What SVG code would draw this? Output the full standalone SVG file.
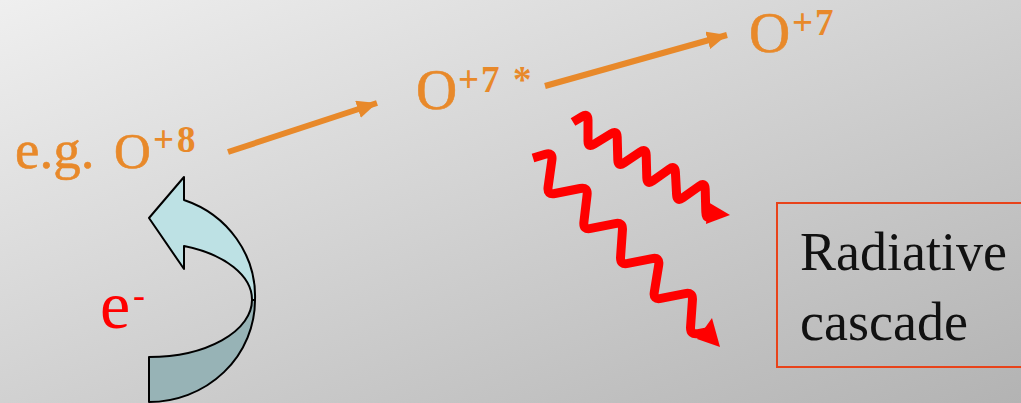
<svg xmlns="http://www.w3.org/2000/svg" width="1021" height="403" viewBox="0 0 1021 403">
<style>
.ion{font-family:"Liberation Serif","DejaVu Serif",serif;fill:#e8892a;stroke:#e8892a;stroke-width:0.6}
.sup{font-size:37px;font-weight:bold;stroke-width:0}
.conn{stroke:#e8892a;stroke-width:6;fill:none}
.wave{stroke:#ff0000;stroke-width:9;fill:none;stroke-linejoin:round;stroke-linecap:butt}
.head{fill:#ff0000}
.lbl{font-family:"Liberation Serif","DejaVu Serif",serif;font-size:54px;fill:#111}
.rib{stroke:#000;stroke-width:2;stroke-linejoin:round}
</style>
<defs>
<linearGradient id="bg" x1="0" y1="0" x2="1" y2="1">
<stop offset="0" stop-color="#efefef"/>
<stop offset="1" stop-color="#b3b3b3"/>
</linearGradient>
<marker id="oarr" markerUnits="userSpaceOnUse" markerWidth="24" markerHeight="20" refX="20" refY="9" orient="auto">
<path d="M0,0 L20,9 L0,18 Z" fill="#e8892a"/>
</marker>
</defs>
<rect width="1021" height="403" fill="url(#bg)"/>

<g id="connectors">
<line class="conn" x1="228" y1="152" x2="377" y2="103" marker-end="url(#oarr)"/>
<line class="conn" x1="545" y1="86" x2="727" y2="35" marker-end="url(#oarr)"/>
</g>

<g id="node-o8">
<text class="ion" x="15" y="168" font-size="55">e.g.</text>
<text class="ion" x="114" y="168" font-size="51">O</text>
<text class="ion sup" x="153 177" y="152">+8</text>
</g>

<g id="node-o7star">
<text class="ion" x="416" y="109" font-size="57">O</text>
<text class="ion sup" x="458 481 513" y="92">+7*</text>
</g>

<g id="node-o7">
<text class="ion" x="749" y="52" font-size="57">O</text>
<text class="ion sup" x="792 815" y="35">+7</text>
</g>

<g id="electron">
<path class="rib" fill="#97b3b6" d="M252,300 A103,57 0 0 1 149,357 L149,402 A106,102 0 0 0 255,300 Z"/>
<path class="rib" fill="#bde1e4" d="M149,218 L184,177 L184,200 A106,102 0 0 1 255,300 L252,300 A103,57 0 0 0 184,246 L184,269 Z"/>
<text x="100" y="328" font-family="Liberation Serif, DejaVu Serif, serif" font-size="68" fill="#ff0000">e</text>
<text x="133" y="307" font-family="Liberation Serif, DejaVu Serif, serif" font-size="36" fill="#ff0000">-</text>
</g>

<g id="photons">
<path class="wave" d="M573,122 L582,116.6 Q588,113 588,120 L588,141 Q588,148 593.95,144.3 L611.05,133.7 Q617,130 617.19,137 L617.81,160 Q618,167 623.8,163.07 L640.2,151.93 Q646,148 646.19,155 L646.81,178 Q647,185 652.7,180.93 L669.3,169.07 Q675,165 675.38,172 L676.62,195 Q677,202 682.7,197.93 L699.3,186.07 Q705,182 705.19,189 L705.81,212 Q706,219 709,216.5 L712,214"/>
<polygon class="head" points="708,202 730,215 706,224"/>
<path class="wave" d="M533,158 L545.34,154.3 Q553,152 551.9,159.92 L548.1,187.08 Q547,195 554.85,193.47 L580.15,188.53 Q588,187 587.08,194.94 L583.92,222.06 Q583,230 590.85,228.43 L615.15,223.57 Q623,222 622.44,229.98 L620.56,257.02 Q620,265 627.85,263.43 L652.15,258.57 Q660,257 658.71,264.9 L654.29,292.1 Q653,300 660.85,298.43 L685.15,293.57 Q693,292 692.44,299.98 L690.56,327.02 Q690,335 697.88,333.61 L707,332"/>
<polygon class="head" points="712,318 720,347 697,339"/>
</g>

<g id="node-cascade">
<rect x="777" y="203" width="260" height="164" fill="none" stroke="#e8431a" stroke-width="2"/>
<text class="lbl" x="800" y="270">Radiative</text>
<text class="lbl" x="800" y="340">cascade</text>
</g>
</svg>
